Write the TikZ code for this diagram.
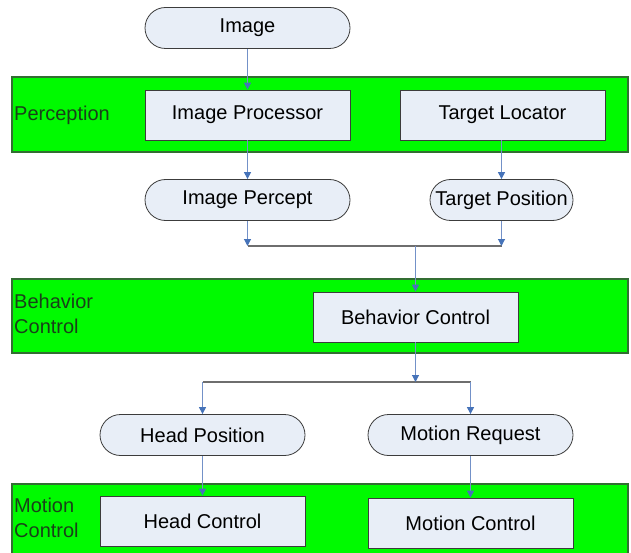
\documentclass[tikz,border=0pt]{standalone}
\usepackage{fontspec}
\setmainfont{Liberation Sans}
\usetikzlibrary{arrows.meta}
\definecolor{nodefill}{RGB}{232,238,247}
\definecolor{nodeedge}{RGB}{60,60,60}
\definecolor{bandgreen}{RGB}{0,250,0}
\definecolor{bandedge}{RGB}{50,110,50}
\definecolor{bandtext}{RGB}{25,65,25}
\definecolor{arrline}{RGB}{115,145,200}
\definecolor{arrtip}{RGB}{70,115,185}
\definecolor{joinline}{RGB}{110,110,110}
\begin{document}
\begin{tikzpicture}[x=1pt,y=-1pt,
  every node/.style={font=\fontsize{20}{24.5}\selectfont, inner sep=0pt},
  band/.style={draw=bandedge, line width=1.2pt, fill=bandgreen},
  bandlabel/.style={anchor=west, align=left, text=bandtext},
  term/.style={draw=nodeedge, line width=0.8pt, fill=nodefill, rectangle, rounded corners=20.5pt, minimum height=41pt},
  procbox/.style={draw=nodeedge, line width=0.8pt, fill=nodefill, rectangle, minimum height=50pt, minimum width=205pt},
  flow/.style={draw=arrline, line width=1.1pt, -{Triangle[width=7pt,length=7pt,color=arrtip]}},
  joinl/.style={draw=joinline, line width=1.3pt}
]
\useasboundingbox (0,0) rectangle (631,553);
% bands
\path[band] (12,77) rectangle (628,152);
\path[band] (12,279) rectangle (628,353);
\path[band] (12,484) rectangle (628,556);
\node[bandlabel] (lperc) at (14,115) {Perception};
\node[bandlabel] (lbeh) at (14,314) {Behavior\\Control};
\node[bandlabel] (lmot) at (14,518) {Motion\\Control};
% nodes
\node[term, minimum width=205pt] (img) at (247.5,28) {Image};
\node[procbox] (ip) at (247.5,115) {Image Processor};
\node[procbox] (tl) at (502.5,115) {Target Locator};
\node[term, minimum width=205pt] (ipc) at (247.5,200) {Image Percept};
\node[term, minimum width=143pt] (tp) at (501.5,200) {Target Position};
\node[procbox] (bc) at (415.5,317) {Behavior Control};
\node[term, minimum width=205pt] (hp) at (202.5,435) {Head Position};
\node[term, minimum width=205pt] (mr) at (470.5,435) {Motion Request};
\node[procbox] (hc) at (202.5,521) {Head Control};
\node[procbox] (mc) at (470.5,523) {Motion Control};
% junction coordinates
\coordinate (m1) at (247.5,246);
\coordinate (m2) at (501.5,246);
\coordinate (mj) at (415.5,246);
\coordinate (sj) at (415.5,382);
\coordinate (s1) at (202.5,382);
\coordinate (s2) at (470.5,382);
% connectors
\draw[flow] (img.south) -- (ip.north);
\draw[flow] (ip.south) -- (ipc.north);
\draw[flow] (tl.south -| tp.north) -- (tp.north);
\draw[joinl] (m1) -- (m2);
\draw[flow] (ipc.south) -- (m1);
\draw[flow] (tp.south) -- (m2);
\draw[flow] (mj) -- (bc.north);
\draw[joinl] (s1) -- (s2);
\draw[flow] (bc.south) -- (sj);
\draw[flow] (s1) -- (hp.north);
\draw[flow] (s2) -- (mr.north);
\draw[flow] (hp.south) -- (hc.north);
\draw[flow] (mr.south) -- (mc.north);
\end{tikzpicture}
\end{document}
